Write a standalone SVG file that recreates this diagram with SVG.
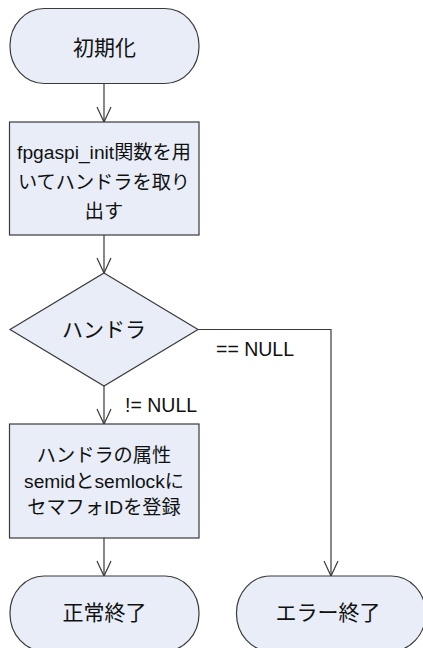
<svg xmlns="http://www.w3.org/2000/svg" width="423" height="648" viewBox="0 0 423 648">
<style>
.shape{fill:#E8EDF7;stroke:#3a3a3a;stroke-width:1.2}
.conn{fill:none;stroke:#3a3a3a;stroke-width:1.2}
text{font-family:"Liberation Sans","Noto Sans CJK JP",sans-serif;fill:#111;text-anchor:middle;dominant-baseline:central}
.t{font-size:21px}
.b{font-size:19.2px}
.l{font-size:19.5px;text-anchor:start}
</style>
<defs>
<marker id="arr" markerUnits="userSpaceOnUse" markerWidth="20" markerHeight="20" refX="16" refY="8" orient="auto">
<path d="M1,1 L16,8 L1,15" fill="none" stroke="#3a3a3a" stroke-width="1.2"/>
</marker>
</defs>
<rect width="423" height="648" fill="#ffffff"/>
<g id="connectors">
<line class="conn" x1="104" y1="83" x2="104" y2="122" marker-end="url(#arr)"/>
<line class="conn" x1="104" y1="235" x2="104" y2="273" marker-end="url(#arr)"/>
<line class="conn" x1="104" y1="386" x2="104" y2="424" marker-end="url(#arr)"/>
<line class="conn" x1="104" y1="538" x2="104" y2="576" marker-end="url(#arr)"/>
<path class="conn" d="M198,329.5 H331 V576" marker-end="url(#arr)"/>
<text class="l" x="216" y="349">== NULL</text>
<text class="l" x="125" y="405">!= NULL</text>
</g>
<g id="start">
<rect class="shape" x="10" y="8.5" width="189" height="75" rx="34" ry="37"/>
<text class="t" x="104.5" y="47">初期化</text>
</g>
<g id="getHandle">
<rect class="shape" x="9.5" y="122" width="189.5" height="113"/>
<text class="b" x="104" y="152">fpgaspi_init関数を用</text>
<text class="b" x="104" y="182">いてハンドラを取り</text>
<text class="b" x="104" y="211">出す</text>
</g>
<g id="decision">
<polygon class="shape" points="104,273 198,329.5 104,386 10,329.5"/>
<text class="t" x="104" y="329">ハンドラ</text>
</g>
<g id="register">
<rect class="shape" x="9.5" y="424" width="189.5" height="114"/>
<text class="b" x="104" y="455">ハンドラの属性</text>
<text class="b" x="104" y="481">semidとsemlockに</text>
<text class="b" x="104" y="507">セマフォIDを登録</text>
</g>
<g id="normalEnd">
<rect class="shape" x="10" y="576" width="189" height="75" rx="34" ry="37"/>
<text class="t" x="104.5" y="612">正常終了</text>
</g>
<g id="errorEnd">
<rect class="shape" x="236.5" y="576" width="189" height="75" rx="34" ry="37"/>
<text class="t" x="328" y="612">エラー終了</text>
</g>
</svg>
